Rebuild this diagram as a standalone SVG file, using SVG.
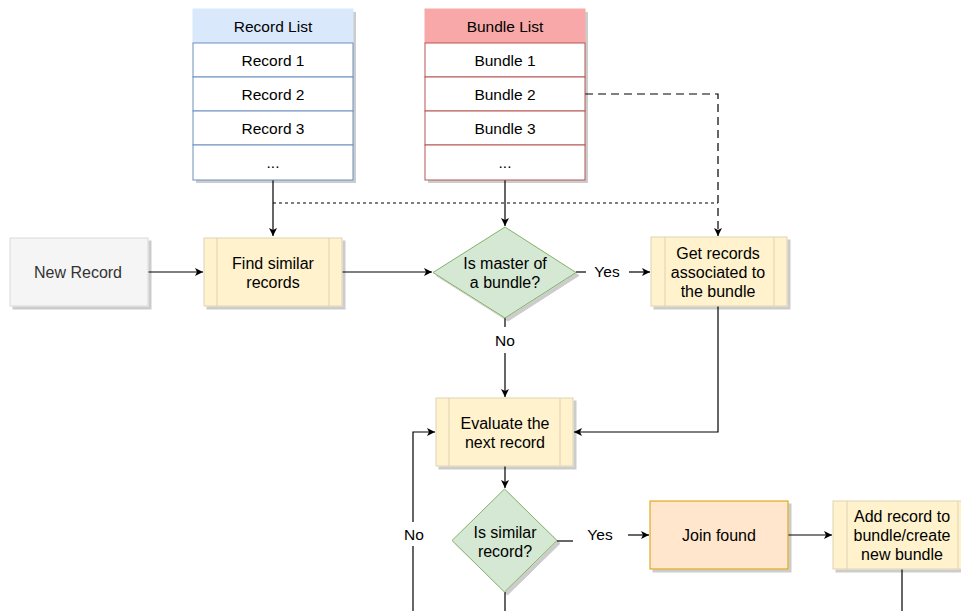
<svg xmlns="http://www.w3.org/2000/svg" width="961" height="611" viewBox="0 0 961 611">
<style>
text{font-family:"Liberation Sans",Arial,sans-serif;font-size:16px;fill:#000;text-anchor:middle;dominant-baseline:central}
.lst{font-size:15.5px}
.lbl{font-size:15.5px}
.proc{fill:#fff2cc;stroke:#ddd3b4;stroke-width:1}
.pl{stroke:#ddd3b4;stroke-width:1}
.dia{fill:#d5e8d4;stroke:#82b366;stroke-width:1}
.e{fill:none;stroke:#000;stroke-width:1.2}
.sh{filter:url(#sh)}
</style>
<defs>
<filter id="sh" x="-10%" y="-10%" width="130%" height="130%">
<feDropShadow dx="3" dy="3" stdDeviation="0.6" flood-color="#000" flood-opacity="0.2"/>
</filter>
<marker id="ar" markerWidth="10" markerHeight="10" refX="9" refY="5" orient="auto" markerUnits="userSpaceOnUse">
<path d="M1,1 L9,5 L1,9 L3,5 Z" fill="#000"/>
</marker>
</defs>

<g id="connectors">
<path class="e" d="M273,180 V236" marker-end="url(#ar)"/>
<path class="e" d="M505,180 V226" marker-end="url(#ar)"/>
<path class="e" d="M273,203 H718" stroke-dasharray="3,3"/>
<path class="e" d="M585,94 H718 V236" stroke-dasharray="8,5" marker-end="url(#ar)"/>
<path class="e" d="M148,272 H203" marker-end="url(#ar)"/>
<path class="e" d="M342,272 H432" marker-end="url(#ar)"/>
<path class="e" d="M576,272 H586"/>
<path class="e" d="M629,272 H650" marker-end="url(#ar)"/>
<text class="lbl" x="607" y="271">Yes</text>
<path class="e" d="M505,318 V327"/>
<text class="lbl" x="505" y="340">No</text>
<path class="e" d="M505,353 V397" marker-end="url(#ar)"/>
<path class="e" d="M718,306 V432 H574" marker-end="url(#ar)"/>
<path class="e" d="M505,466 V488" marker-end="url(#ar)"/>
<path class="e" d="M413,611 V546"/>
<path class="e" d="M413,522 V432 H435" marker-end="url(#ar)"/>
<text class="lbl" x="414" y="534">No</text>
<path class="e" d="M557,541 H573"/>
<text class="lbl" x="600" y="534">Yes</text>
<path class="e" d="M628,535 H649" marker-end="url(#ar)"/>
<path class="e" d="M788,535 H832" marker-end="url(#ar)"/>
<path class="e" d="M505,592 V611"/>
<path class="e" d="M902,569 V611"/>
</g>

<g id="record-list">
<rect class="sh" x="193" y="9" width="160" height="171" fill="#fff"/>
<rect x="193" y="9" width="160" height="34" fill="#dae8fc" stroke="#dae8fc"/>
<text class="lst" x="273" y="26">Record List</text>
<g fill="#fff" stroke="#6c8ebf">
<rect x="193" y="43" width="160" height="34"/>
<rect x="193" y="77" width="160" height="34"/>
<rect x="193" y="111" width="160" height="34"/>
<rect x="193" y="145" width="160" height="35"/>
</g>
<text class="lst" x="273" y="60">Record 1</text>
<text class="lst" x="273" y="94">Record 2</text>
<text class="lst" x="273" y="128">Record 3</text>
<text class="lst" x="273" y="162">...</text>
</g>

<g id="bundle-list">
<rect class="sh" x="425" y="9" width="160" height="171" fill="#fff"/>
<rect x="425" y="9" width="160" height="34" fill="#f8a8a8" stroke="#f8a8a8"/>
<text class="lst" x="505" y="26">Bundle List</text>
<g fill="#fff" stroke="#b85450">
<rect x="425" y="43" width="160" height="34"/>
<rect x="425" y="77" width="160" height="34"/>
<rect x="425" y="111" width="160" height="34"/>
<rect x="425" y="145" width="160" height="35"/>
</g>
<text class="lst" x="505" y="60">Bundle 1</text>
<text class="lst" x="505" y="94">Bundle 2</text>
<text class="lst" x="505" y="128">Bundle 3</text>
<text class="lst" x="505" y="162">...</text>
</g>

<g id="new-record">
<rect class="sh" x="10" y="238" width="138" height="68" fill="#f5f5f5" stroke="#d9d9d9"/>
<text x="78" y="272" style="fill:#333">New Record</text>
</g>

<g id="find-similar">
<rect class="proc sh" x="204" y="238" width="138" height="68"/>
<path class="pl" d="M217,238 V306 M329,238 V306"/>
<text x="273" y="263">Find similar</text>
<text x="273" y="282">records</text>
</g>

<g id="is-master">
<path class="dia sh" d="M505,227 L576,272.5 L505,318 L433,272.5 Z"/>
<text x="505" y="263">Is master of</text>
<text x="505" y="282">a bundle?</text>
</g>

<g id="get-records">
<rect class="proc sh" x="651" y="237" width="136" height="69"/>
<path class="pl" d="M665,237 V306 M774,237 V306"/>
<text x="718" y="253">Get records</text>
<text x="718" y="272">associated to</text>
<text x="718" y="291">the bundle</text>
</g>

<g id="evaluate">
<rect class="proc sh" x="436" y="398" width="137" height="68"/>
<path class="pl" d="M449,398 V466 M560,398 V466"/>
<text x="505" y="423">Evaluate the</text>
<text x="505" y="442">next record</text>
</g>

<g id="is-similar">
<path class="dia sh" d="M504.5,489 L557,540.5 L504.5,592 L452,540.5 Z"/>
<text x="505" y="532">Is similar</text>
<text x="505" y="551">record?</text>
</g>

<g id="join-found">
<rect class="sh" x="650" y="501" width="138" height="68" fill="#ffe6cc" stroke="#d79b00"/>
<text x="719" y="535">Join found</text>
</g>

<g id="add-record">
<rect class="proc sh" x="833" y="501" width="138" height="68"/>
<path class="pl" d="M847,501 V569 M958,501 V569"/>
<text x="902" y="516">Add record to</text>
<text x="902" y="535">bundle/create</text>
<text x="902" y="554">new bundle</text>
</g>
</svg>
